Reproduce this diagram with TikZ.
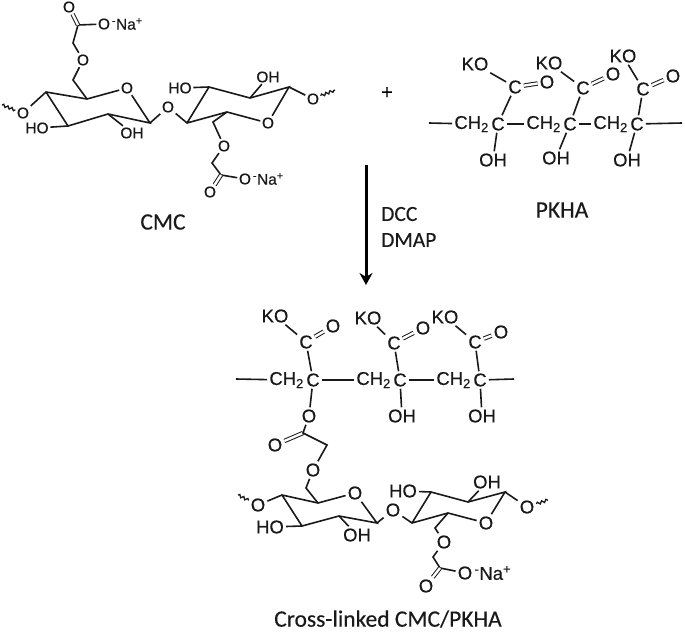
\documentclass[tikz,border=0pt]{standalone}
\usepackage{fontspec}
\setmainfont[FakeBold=0.35]{Liberation Sans}
\newfontfamily\capfont[FakeBold=0.25]{Carlito}
\usetikzlibrary{positioning}
\usetikzlibrary{arrows.meta}
\usetikzlibrary{decorations.pathmorphing}
\tikzset{
	bond/.style={line width=1.6pt, black!90},
	dbl/.style={double=white, double distance=2.4pt, line width=1pt, black!90},
	wavy/.style={line width=1.3pt, black!90, decorate, decoration={snake, segment length=4.5pt, amplitude=1.3pt}},
	atom/.style={inner sep=2pt, text=black!90, font=\fontsize{18.5}{18.5}\selectfont},
	atomsm/.style={inner sep=1.5pt, text=black!90, font=\fontsize{15.5}{15.5}\selectfont},
	ionlab/.style={inner sep=0pt, text=black!90},
	caplab/.style={inner sep=0pt, text=black!90, font=\capfont\fontsize{23.5}{23.5}\selectfont},
	reagent/.style={inner sep=0pt, anchor=west, text=black!90, font=\capfont\fontsize{21.5}{21.5}\selectfont}
}
\begin{document}
\begin{tikzpicture}[x=1pt, y=-1pt]
	\useasboundingbox (0,0) rectangle (685,632);
	% CMC
	\coordinate (aw1) at (2,105);
	\coordinate (ac4) at (46,92);
	\coordinate (ac5) at (87,99);
	\coordinate (ac3) at (68,126);
	\coordinate (ac2) at (108,114);
	\coordinate (ac1) at (150,123);
	\coordinate (ab1) at (73,80);
	\coordinate (ab2) at (73,43);
	\coordinate (ad) at (78,25);
	\node[atomsm] (ao1) at (23,113) {O};
	\node[atomsm] (aor) at (127,88) {O};
	\node[atomsm] (aho) at (37,128) {HO};
	\node[atomsm] (aoh) at (132,133) {OH};
	\node[atomsm] (ao2) at (83,60) {O};
	\node[atomsm] (ao3) at (104,24) {O};
	\node[atomsm, ionlab, right=0pt of ao3] (ana) {\textsuperscript{-}Na\textsuperscript{+}};
	\node[atomsm] (ao4) at (69,7) {O};
	\draw[wavy] (aw1) -- (ao1);
	\draw[bond] (ao1) -- (ac4) -- (ac5) -- (aor) -- (ac1) -- (ac2) -- (ac3) -- (ac4);
	\draw[bond] (ac3) -- (aho);
	\draw[bond] (ac2) -- (aoh);
	\draw[bond] (ac5) -- (ab1) -- (ao2) -- (ab2) -- (ad) -- (ao3);
	\draw[dbl] (ad) -- (ao4);
	\node[atomsm] (ag) at (168,107) {O};
	\coordinate (ae1) at (187,123);
	\coordinate (ae2) at (209,87);
	\coordinate (ae3) at (250,98);
	\coordinate (ae4) at (289,87);
	\coordinate (ae5) at (227,112);
	\coordinate (aw2) at (335,90);
	\coordinate (ab3) at (213,122);
	\coordinate (ab4) at (212,163);
	\coordinate (af) at (221,175);
	\node[atomsm] (aos) at (268,123) {O};
	\node[atomsm] (ahp) at (180,88) {HO};
	\node[atomsm] (aoq) at (268,77) {OH};
	\node[atomsm] (ao5) at (313,99) {O};
	\node[atomsm] (ao6) at (224,146) {O};
	\node[atomsm] (ao7) at (245,179) {O};
	\node[atomsm, ionlab, right=0pt of ao7] (anb) {\textsuperscript{-}Na\textsuperscript{+}};
	\node[atomsm] (ao8) at (210,192) {O};
	\draw[bond] (ac1) -- (ag) -- (ae1) -- (ae2) -- (ae3) -- (ae4) -- (aos) -- (ae5) -- (ae1);
	\draw[bond] (ae2) -- (ahp);
	\draw[bond] (ae3) -- (aoq);
	\draw[bond] (ae4) -- (ao5);
	\draw[wavy] (ao5) -- (aw2);
	\draw[bond] (ae5) -- (ab3) -- (ao6) -- (ab4) -- (af) -- (ao7);
	\draw[dbl] (af) -- (ao8);
	\node[caplab] (cmc) at (163,222) {CMC};
	\node[inner sep=0pt, font=\fontsize{20}{20}\selectfont] (plus) at (387,93) {+};
	% PKHA
	\coordinate (pl1) at (429,123);
	\coordinate (pl2) at (682,123);
	\node[atom, anchor=east] (pch1) at (491,124) {CH\textsubscript{2}};
	\node[atom] (pc1) at (498,124) {C};
	\node[atom, anchor=east] (pch2) at (563,124) {CH\textsubscript{2}};
	\node[atom] (pc2) at (570,124) {C};
	\node[atom, anchor=east] (pch3) at (630,124) {CH\textsubscript{2}};
	\node[atom] (pc3) at (637,124) {C};
	\node[atom] (pd1) at (515,87) {C};
	\node[atom] (pd2) at (583,88) {C};
	\node[atom] (pd3) at (643,89) {C};
	\node[atom] (po1) at (547,82) {O};
	\node[atom] (po2) at (613,74) {O};
	\node[atom] (po3) at (673,76) {O};
	\node[atom] (pk1) at (475,64) {KO};
	\node[atom] (pk2) at (549,63) {KO};
	\node[atom] (pk3) at (623,56) {KO};
	\node[atom] (ph1) at (493,160) {OH};
	\node[atom] (ph2) at (556,158) {OH};
	\node[atom] (ph3) at (627,160) {OH};
	\draw[bond] (pl1) -- (pch1);
	\draw[bond] (pc1) -- (pch2);
	\draw[bond] (pc2) -- (pch3);
	\draw[bond] (pc3) -- (pl2);
	\draw[bond] (pc1) -- (pd1) -- (pk1);
	\draw[bond] (pc2) -- (pd2) -- (pk2);
	\draw[bond] (pc3) -- (pd3) -- (pk3);
	\draw[dbl] (pd1) -- (po1);
	\draw[dbl] (pd2) -- (po2);
	\draw[dbl] (pd3) -- (po3);
	\draw[bond] (pc1) -- (ph1);
	\draw[bond] (pc2) -- (ph2);
	\draw[bond] (pc3) -- (ph3);
	\node[caplab] (pkha) at (562,210) {PKHA};
	% reaction arrow
	\coordinate (r1) at (366,165);
	\coordinate (r2) at (366,285);
	\draw[line width=3pt, -{Stealth[length=12pt, width=13pt]}] (r1) -- (r2);
	\node[reagent] (dcc) at (381,214) {DCC};
	\node[reagent] (dmap) at (381,240) {DMAP};
	% cross-linked chain
	\coordinate (xl1) at (236,379);
	\coordinate (xl2) at (514,379);
	\node[atom, anchor=east] (xch1) at (306,380) {CH\textsubscript{2}};
	\node[atom] (xc1) at (313,380) {C};
	\node[atom, anchor=east] (xch2) at (393,380) {CH\textsubscript{2}};
	\node[atom] (xc2) at (400,380) {C};
	\node[atom, anchor=east] (xch3) at (473,380) {CH\textsubscript{2}};
	\node[atom] (xc3) at (480,380) {C};
	\node[atom] (xd1) at (306,342) {C};
	\node[atom] (xd2) at (394,343) {C};
	\node[atom] (xd3) at (475,342) {C};
	\node[atom] (xo1) at (333,326) {O};
	\node[atom] (xo2) at (423,328) {O};
	\node[atom] (xo3) at (501,332) {O};
	\node[atom] (xk1) at (275,316) {KO};
	\node[atom] (xk2) at (368,318) {KO};
	\node[atom] (xk3) at (445,317) {KO};
	\node[atom] (xh2) at (402,416) {OH};
	\node[atom] (xh3) at (482,416) {OH};
	\node[atom] (xo4) at (309,416) {O};
	\draw[bond] (xl1) -- (xch1);
	\draw[bond] (xc1) -- (xch2);
	\draw[bond] (xc2) -- (xch3);
	\draw[bond] (xc3) -- (xl2);
	\draw[bond] (xc1) -- (xd1) -- (xk1);
	\draw[bond] (xc2) -- (xd2) -- (xk2);
	\draw[bond] (xc3) -- (xd3) -- (xk3);
	\draw[dbl] (xd1) -- (xo1);
	\draw[dbl] (xd2) -- (xo2);
	\draw[dbl] (xd3) -- (xo3);
	\draw[bond] (xc2) -- (xh2);
	\draw[bond] (xc3) -- (xh3);
	\draw[bond] (xc1) -- (xo4);
	% ester link
	\coordinate (xe) at (303,433);
	\coordinate (xb1) at (327,445);
	\node[atom] (xo5) at (275,445) {O};
	\node[atom] (xo6) at (313,470) {O};
	\draw[dbl] (xe) -- (xo5);
	\draw[bond] (xo4) -- (xe) -- (xb1) -- (xo6);
	% bottom sugar
	\coordinate (xw1) at (238,495);
	\coordinate (xs4) at (282,495);
	\coordinate (xs5) at (318,503);
	\coordinate (xs3) at (302,526);
	\coordinate (xs2) at (339,516);
	\coordinate (xs1) at (377,523);
	\coordinate (xb2) at (306,488);
	\node[atom] (xo7) at (258,505) {O};
	\node[atom] (xor) at (355,493) {O};
	\node[atom] (xho) at (270,527) {HO};
	\node[atom] (xoh) at (357,535) {OH};
	\node[atom] (xog) at (393,510) {O};
	\draw[wavy] (xw1) -- (xo7);
	\draw[bond] (xo7) -- (xs4) -- (xs5) -- (xor) -- (xs1) -- (xs2) -- (xs3) -- (xs4);
	\draw[bond] (xs3) -- (xho);
	\draw[bond] (xs2) -- (xoh);
	\draw[bond] (xs5) -- (xb2) -- (xo6);
	\coordinate (xt1) at (412,523);
	\coordinate (xt2) at (431,492);
	\coordinate (xt3) at (468,502);
	\coordinate (xt4) at (505,492);
	\coordinate (xt5) at (448,513);
	\coordinate (xw2) at (548,500);
	\coordinate (xb3) at (435,528);
	\coordinate (xb4) at (433,557);
	\coordinate (xf) at (440,568);
	\node[atom] (xos) at (486,523) {O};
	\node[atom] (xhp) at (403,491) {HO};
	\node[atom] (xoq) at (487,482) {OH};
	\node[atom] (xo8) at (527,507) {O};
	\node[atom] (xo9) at (444,542) {O};
	\node[atom] (xo10) at (465,573) {O};
	\node[atom, ionlab, right=0pt of xo10] (xna) {\textsuperscript{-}Na\textsuperscript{+}};
	\node[atom] (xo11) at (426,586) {O};
	\draw[bond] (xs1) -- (xog) -- (xt1) -- (xt2) -- (xt3) -- (xt4) -- (xos) -- (xt5) -- (xt1);
	\draw[bond] (xt2) -- (xhp);
	\draw[bond] (xt3) -- (xoq);
	\draw[bond] (xt4) -- (xo8);
	\draw[wavy] (xo8) -- (xw2);
	\draw[bond] (xt5) -- (xb3) -- (xo9) -- (xb4) -- (xf) -- (xo10);
	\draw[dbl] (xf) -- (xo11);
	\node[caplab] (xlab) at (388,619) {Cross-linked CMC/PKHA};
\end{tikzpicture}
\end{document}
